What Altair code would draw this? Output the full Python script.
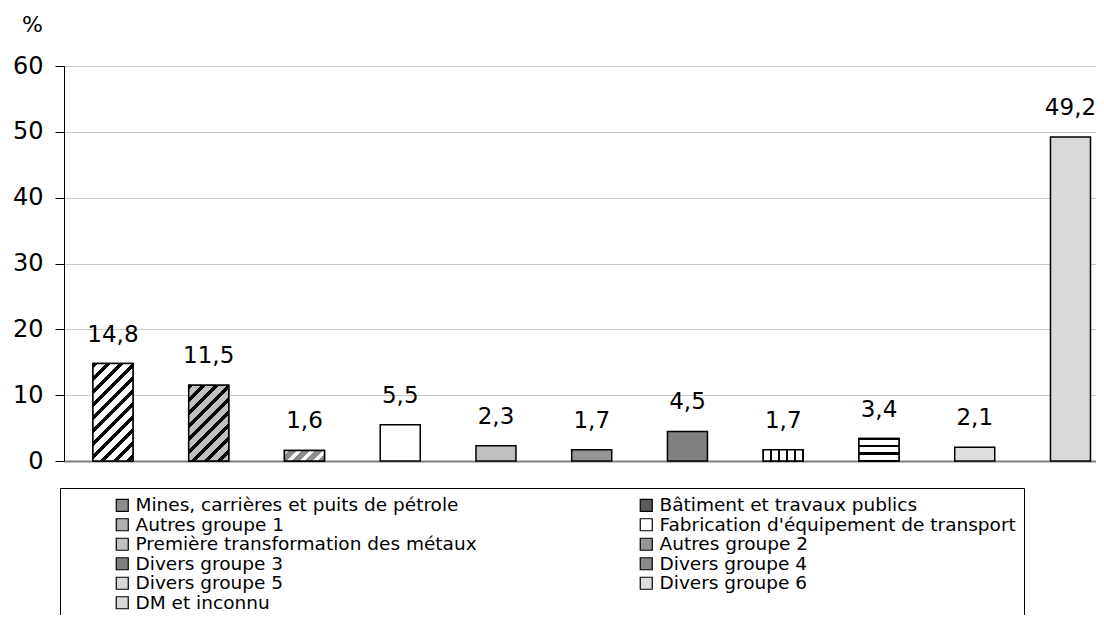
import altair as alt
import pandas as pd

# ---- data -------------------------------------------------------------
categories = [
    "Mines, carrières et puits de pétrole",
    "Bâtiment et travaux publics",
    "Autres groupe 1",
    "Fabrication d'équipement de transport",
    "Première transformation des métaux",
    "Autres groupe 2",
    "Divers groupe 3",
    "Divers groupe 4",
    "Divers groupe 5",
    "Divers groupe 6",
    "DM et inconnu",
]
values = [14.8, 11.5, 1.6, 5.5, 2.3, 1.7, 4.5, 1.7, 3.4, 2.1, 49.2]
y_ticks = [0, 10, 20, 30, 40, 50, 60]

# ---- style ------------------------------------------------------------
fills = ["#8c8c8c", "#5a5a5a", "#b0b0b0", "#ffffff", "#c0c0c0", "#959595",
         "#808080", "#8a8a8a", "#d8d8d8", "#dedede", "#d9d9d9"]
FONT = "DejaVu Sans"
PLOT_W, PLOT_H = 1032, 395
Y_MAX = 60
P_INNER, P_OUTER, ALIGN = 0.582, 0.18, 0.84
STEP = PLOT_W / (len(categories) - P_INNER + 2 * P_OUTER)
BAR_W = STEP * (1 - P_INNER)

df = pd.DataFrame({"cat": categories, "value": values})


def band_stops(period, frac, bg, fg, phase=0.0):
    stops = [(0.0, bg)]
    k = -1
    while True:
        a = phase + k * period
        b = a + frac * period
        if a >= 1:
            break
        if b > 0:
            a2, b2 = max(a, 0.0), min(b, 1.0)
            stops += [(a2, bg), (a2, fg), (b2, fg), (b2, bg)]
        k += 1
    stops.append((1.0, bg))
    return [{"offset": round(o, 5), "color": c} for o, c in stops]


def diag(value, bg, fg, period_px=13.0, frac=0.36):
    w = BAR_W
    h = value * PLOT_H / Y_MAX
    c = (w + h) / (w * w + h * h)
    return {"gradient": "linear", "x1": 0, "y1": 0,
            "x2": round(w * c, 5), "y2": round(h * c, 5),
            "stops": band_stops(period_px / (w + h), frac, bg, fg)}


def vlines(cells, bg, fg, line_px=2.5):
    p = 1.0 / cells
    f = (line_px / BAR_W) / p
    return {"gradient": "linear", "x1": 0, "y1": 0, "x2": 1, "y2": 0,
            "stops": band_stops(p, f, bg, fg, phase=-line_px / 2 / BAR_W)}


def hlines(value, cells, bg, fg, line_px=2.5):
    h = value * PLOT_H / Y_MAX
    p = 1.0 / cells
    f = (line_px / h) / p
    return {"gradient": "linear", "x1": 0, "y1": 0, "x2": 0, "y2": 1,
            "stops": band_stops(p, f, bg, fg, phase=-line_px / 2 / h)}


patterns = {
    categories[0]: diag(values[0], "#ffffff", "#000000"),
    categories[1]: diag(values[1], "#c0c0c0", "#000000"),
    categories[2]: diag(values[2], "#8c8c8c", "#ffffff"),
    categories[7]: vlines(5, "#ffffff", "#000000"),
    categories[8]: hlines(values[8], 3, "#ffffff", "#000000"),
}

x_enc = alt.X("cat:N", sort=None,
              scale=alt.Scale(domain=categories, paddingInner=P_INNER,
                              paddingOuter=P_OUTER, align=ALIGN),
              axis=alt.Axis(labels=False, ticks=False, title=None, grid=False,
                            domainColor="#808080", domainWidth=2))
y_enc = alt.Y("value:Q",
              scale=alt.Scale(domain=[0, Y_MAX], nice=False, zero=True),
              axis=alt.Axis(values=y_ticks, format="d", grid=True,
                            gridColor="#c8c8c8", gridWidth=1,
                            domainColor="black", tickColor="black",
                            tickSize=9, labelPadding=12,
                            labelFont=FONT, labelFontSize=24, labelColor="black",
                            title="%", titleAngle=0, titleX=-32, titleY=-42,
                            titleAlign="center", titleBaseline="middle",
                            titleFont=FONT, titleFontSize=22,
                            titleFontWeight="normal", titleColor="black"))

base = alt.Chart(df).encode(x=x_enc, y=y_enc)

legend = alt.Legend(
    title=None, orient="none", legendX=-4, legendY=422, columns=2,
    direction="horizontal",
    columnPadding=115, rowPadding=0.5, symbolType="square", symbolSize=144,
    symbolStrokeColor="black", symbolStrokeWidth=1.2, symbolOffset=45,
    labelOffset=4, labelFont=FONT, labelFontSize=18.5, labelColor="black",
    labelLimit=1000, strokeColor="black", fillColor="white", padding=8,
)

bars = base.mark_bar(stroke="black", strokeWidth=1.5).encode(
    fill=alt.Fill("cat:N", scale=alt.Scale(domain=categories, range=fills),
                  legend=legend)
)

layers = [bars]
for cat, grad in patterns.items():
    layers.append(
        base.transform_filter(alt.datum.cat == cat)
        .mark_bar(fill=grad, stroke="black", strokeWidth=1.5)
    )

labels = base.transform_calculate(
    label="replace(format(datum.value, '.1f'), '.', ',')"
).mark_text(font=FONT, fontSize=23, baseline="alphabetic", dy=-22,
            color="black").encode(text="label:N")
layers.append(labels)

chart = alt.layer(*layers).properties(
    width=PLOT_W, height=PLOT_H,
    autosize=alt.AutoSizeParams(type="none"),
    padding={"left": 56, "top": 58, "right": 0, "bottom": 154},
).configure_view(strokeWidth=0).configure(font=FONT)

chart.save("out.html", embed_options={"renderer": "svg", "actions": False})
